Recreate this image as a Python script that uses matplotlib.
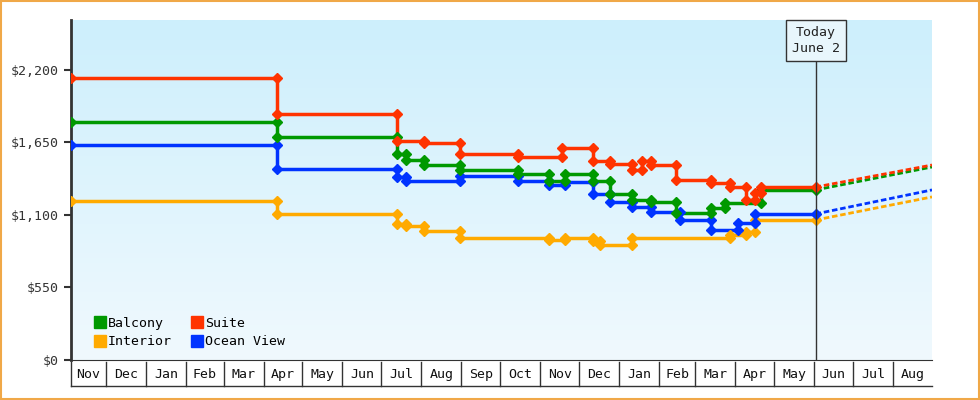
import datetime as dt
import numpy as np
import matplotlib.pyplot as plt
import matplotlib.dates as mdates
from matplotlib.lines import Line2D
from matplotlib.patches import Rectangle
from matplotlib.transforms import blended_transform_factory

plt.rcParams["font.family"] = "DejaVu Sans Mono"

# price history (date of change, new price); first entry is start price
suite_dates = ["2023-11-04", "2024-04-11", "2024-07-13", "2024-08-03", "2024-08-31", "2024-10-15",
               "2024-11-18", "2024-12-12", "2024-12-25", "2025-01-11", "2025-01-19", "2025-01-26",
               "2025-02-14", "2025-03-13", "2025-03-28", "2025-04-09", "2025-04-16", "2025-04-21"]
suite_prices = [2139, 1866, 1661, 1646, 1563, 1540, 1608, 1510, 1487, 1441, 1510, 1479,
                1366, 1343, 1312, 1214, 1267, 1312]

balcony_dates = ["2023-11-04", "2024-04-11", "2024-07-13", "2024-07-20", "2024-08-03", "2024-08-31",
                 "2024-10-15", "2024-11-08", "2024-11-20", "2024-12-12", "2024-12-25", "2025-01-11",
                 "2025-01-26", "2025-02-14", "2025-03-13", "2025-03-24", "2025-04-21"]
balcony_prices = [1806, 1692, 1563, 1517, 1479, 1441, 1411, 1358, 1411, 1358, 1259, 1214,
                  1199, 1115, 1153, 1191, 1290]

ocean_dates = ["2023-11-04", "2024-04-11", "2024-07-13", "2024-07-20", "2024-08-31", "2024-10-15",
               "2024-11-08", "2024-11-20", "2024-12-12", "2024-12-25", "2025-01-11", "2025-01-26",
               "2025-02-17", "2025-03-13", "2025-04-03", "2025-04-16"]
ocean_prices = [1631, 1449, 1388, 1358, 1396, 1358, 1328, 1350, 1259, 1199, 1161, 1123,
                1062, 986, 1039, 1108]

interior_dates = ["2023-11-04", "2024-04-11", "2024-07-13", "2024-07-20", "2024-08-03", "2024-08-31",
                  "2024-11-08", "2024-11-20", "2024-12-12", "2024-12-17", "2025-01-11", "2025-03-28",
                  "2025-04-09", "2025-04-16"]
interior_prices = [1206, 1108, 1032, 1017, 979, 926, 910, 926, 900, 872, 926, 948, 971, 1062]

# projected price at end of axis
projection_end = {"Suite": 1479, "Balcony": 1464, "Ocean View": 1290, "Interior": 1237}

today = dt.date(2025, 6, 2)
x_start, x_end = dt.date(2023, 11, 4), dt.date(2025, 8, 31)
month_labels = ["Nov", "Dec", "Jan", "Feb", "Mar", "Apr", "May", "Jun", "Jul", "Aug", "Sep", "Oct",
                "Nov", "Dec", "Jan", "Feb", "Mar", "Apr", "May", "Jun", "Jul", "Aug"]
y_ticks = [0, 550, 1100, 1650, 2200]

series = [
    ("Balcony", balcony_dates, balcony_prices, "#009900"),
    ("Suite", suite_dates, suite_prices, "#ff3300"),
    ("Interior", interior_dates, interior_prices, "#ffaa00"),
    ("Ocean View", ocean_dates, ocean_prices, "#0033ff"),
]

fig = plt.figure(figsize=(9.8, 4), dpi=100)
fig.patches.append(Rectangle((0.001, 0.002), 0.998, 0.996, transform=fig.transFigure,
                             fill=False, ec="#f0a848", lw=1.5))
ax = fig.add_axes([71 / 980, 40 / 400, 861 / 980, 340 / 400])
ax.set_xlim(x_start, x_end)
ax.set_ylim(0, 2579)

# gradient background
grad = np.linspace(0, 1, 256).reshape(-1, 1)
ax.imshow(grad, extent=[*mdates.date2num([x_start, x_end]), 0, 2579], aspect="auto",
          cmap=plt.matplotlib.colors.LinearSegmentedColormap.from_list("bg", ["#f0f9fe", "#cdeffc"]),
          origin="lower", zorder=-10)

for name, dates, prices, color in [series[2], series[3], series[0], series[1]]:
    d = [dt.date.fromisoformat(s) for s in dates] + [today]
    p = prices + [prices[-1]]
    ax.plot(d, p, drawstyle="steps-post", color=color, lw=2.5, zorder=3)
    mx, my = [d[0]], [p[0]]
    for i in range(1, len(prices)):
        mx += [d[i], d[i]]
        my += [p[i - 1], p[i]]
    mx.append(today)
    my.append(p[-1])
    ax.plot(mx, my, ls="none", marker="D", ms=5.5, color=color, zorder=4)
    ax.plot([today, x_end], [p[-1], projection_end[name]], color=color, lw=2, ls=(0, (2, 1)), zorder=3)

ax.set_yticks(y_ticks)
ax.set_yticklabels([f"${v:,}" for v in y_ticks], fontsize=9.5, color="#333333")
ax.tick_params(axis="y", length=5, width=1.5, color="#333333")
ax.set_xticks([])
for s in ["top", "right"]:
    ax.spines[s].set_visible(False)
ax.spines["left"].set_linewidth(2)
ax.spines["left"].set_color("#333333")
ax.spines["bottom"].set_color("#333333")

# month boxes
tr = blended_transform_factory(ax.transData, ax.transAxes)
bounds = [x_start]
y, m = 2023, 12
while dt.date(y, m, 1) < x_end:
    bounds.append(dt.date(y, m, 1))
    m += 1
    if m > 12:
        y, m = y + 1, 1
bounds.append(x_end)
bnum = mdates.date2num(bounds)
ylo, yhi = -0.077, -0.006
for i, lab in enumerate(month_labels):
    ax.plot([bnum[i], bnum[i]], [ylo, yhi], transform=tr, color="#333333", lw=1, clip_on=False)
    ax.text((bnum[i] + bnum[i + 1]) / 2, (ylo + yhi) / 2, lab, transform=tr, ha="center",
            va="center", fontsize=9.5, color="#111111")
ax.plot([bnum[0], bnum[-1]], [ylo, ylo], transform=tr, color="#333333", lw=1, clip_on=False)

# today marker
ax.axvline(today, color="#333333", lw=1, zorder=5)
ax.text(mdates.date2num(today), 0.94, "Today\nJune 2", transform=tr, ha="center", va="center",
        fontsize=9.5, color="#222222", linespacing=1.3, zorder=6,
        bbox=dict(boxstyle="square,pad=0.45", fc="#e8f6fc", ec="#333333", lw=1))

handles = [Line2D([], [], ls="none", marker="s", ms=9, color=c) for _, _, _, c in series]
order = [0, 2, 1, 3]
ax.legend([handles[i] for i in order], [series[i][0] for i in order], ncol=2, loc="lower left",
          bbox_to_anchor=(0.015, 0.0), frameon=False, handlelength=0.6, handletextpad=0.3,
          columnspacing=1.6, labelspacing=0.4, fontsize=9.5)

fig.savefig("out.png", dpi=100)
